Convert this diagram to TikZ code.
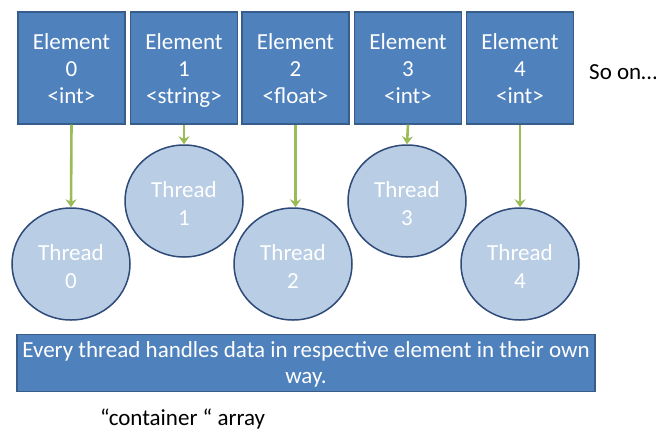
\documentclass[tikz,border=0pt]{standalone}
\usepackage{fontspec}
\setmainfont{Carlito}
\usetikzlibrary{shapes.geometric,arrows.meta}
\definecolor{boxfill}{HTML}{4F81BD}
\definecolor{boxline}{HTML}{385D8A}
\definecolor{circfill}{HTML}{B9CDE5}
\definecolor{circline}{HTML}{2E4A78}
\definecolor{arrowgreen}{HTML}{9BBB59}
\newcommand{\tallstrut}[1]{\rule{0pt}{#1}}
\tikzset{
  elembox/.style={draw=boxline, line width=1.2pt, fill=boxfill, text=white,
    minimum width=107pt, minimum height=112pt, inner sep=0pt, align=center,
    font=\fontsize{23}{27}\selectfont},
  thread/.style={ellipse, draw=circline, line width=1.5pt, fill=circfill, text=white,
    minimum width=118pt, minimum height=112pt, inner sep=0pt, align=center,
    font=\fontsize{23}{28}\selectfont},
  link/.style={draw=arrowgreen, line width=2.6pt, -{Stealth[length=8pt,width=11pt]}},
  note/.style={draw=boxline, line width=1.2pt, fill=boxfill, text=white,
    minimum width=578pt, minimum height=56pt, inner sep=0pt, align=center,
    font=\fontsize{23}{26}\selectfont},
  plain/.style={text=black, inner sep=0pt, font=\fontsize{23}{26}\selectfont}
}
\begin{document}
\begin{tikzpicture}[x=1pt,y=-1pt]
\useasboundingbox (0,0) rectangle (656,432);
\node[elembox] (e0) at (71.5,68) {\tallstrut{25pt}Element\\\strut 0\\\strut <int>};
\node[elembox] (e1) at (184,68) {\tallstrut{25pt}Element\\\strut 1\\\strut <string>};
\node[elembox] (e2) at (295.5,68) {\tallstrut{25pt}Element\\\strut 2\\\strut <float>};
\node[elembox] (e3) at (408,68) {\tallstrut{25pt}Element\\\strut 3\\\strut <int>};
\node[elembox] (e4) at (520,68) {\tallstrut{25pt}Element\\\strut 4\\\strut <int>};
\node[plain, anchor=west] (so) at (589,72) {So on\ldots};
\node[thread] (t0) at (71,264) {\tallstrut{29pt}Thread\\\strut 0};
\node[thread] (t1) at (184,201) {\tallstrut{29pt}Thread\\\strut 1};
\node[thread] (t2) at (293,264) {\tallstrut{29pt}Thread\\\strut 2};
\node[thread] (t3) at (407,201) {\tallstrut{29pt}Thread\\\strut 3};
\node[thread] (t4) at (520,264) {\tallstrut{29pt}Thread\\\strut 4};
\draw[link] (e0.south) -- (t0.north);
\draw[link] (e1.south) -- (t1.north);
\draw[link] (e2.south) -- (t2.north -| e2.south);
\draw[link] (e3.south) -- (t3.north);
\draw[link] (e4.south) -- (t4.north);
\node[note] (n) at (306,363) {\tallstrut{23pt}Every thread handles data in respective element in their own\\\strut way.};
\node[plain, anchor=base west] (c) at (100,425.5) {“container “ array};
\end{tikzpicture}
\end{document}
